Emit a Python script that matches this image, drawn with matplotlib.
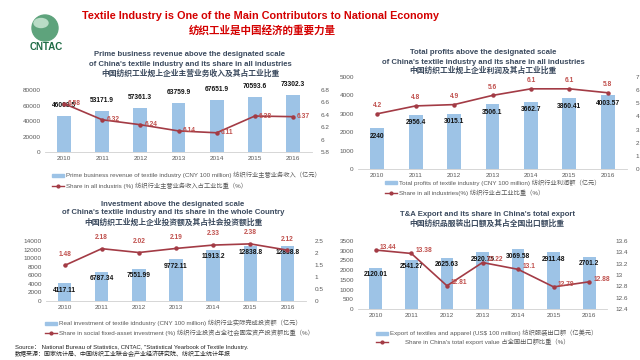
import numpy as np
import matplotlib
matplotlib.use("Agg")
import matplotlib.pyplot as plt
from matplotlib.patches import Ellipse, Rectangle
from matplotlib.lines import Line2D
from matplotlib.ticker import FuncFormatter

plt.rcParams['font.family'] = ['Liberation Sans', 'Noto Sans CJK SC', 'DejaVu Sans']

years = ['2010', '2011', '2012', '2013', '2014', '2015', '2016']

# prime business revenue (CNY 100 million) and share in all industries (%)
revenue = [46008.5, 53171.89, 57361.31, 63759.86, 67651.92, 70593.65, 73302.26]
revenue_share = [6.58, 6.32, 6.24, 6.14, 6.11, 6.38, 6.37]

# total profits (CNY 100 million) and share (%)
profits = [2240, 2956.4, 3015.1, 3506.1, 3662.7, 3860.41, 4003.57]
profits_share = [4.2, 4.8, 4.9, 5.6, 6.1, 6.1, 5.8]

# investment (CNY 100 million) and share in social fixed-asset investment (%)
invest = [4117.11, 6787.34, 7551.99, 9772.11, 11913.21, 12838.75, 12838.75]
invest_share = [1.48, 2.18, 2.02, 2.19, 2.33, 2.38, 2.12]

# T&A export (USD 100 million) and share in total export (%)
export = [2120.01, 2541.27, 2625.63, 2920.75, 3069.58, 2911.48, 2701.2]
export_share = [13.44, 13.38, 12.81, 13.22, 13.1, 12.79, 12.88]

BAR = '#9dc3e6'
LINE = '#a33b45'
LBL = '#c0504d'
TICK = '#595959'
TTL = '#3b4a5e'

W, H = 640, 360
fig = plt.figure(figsize=(6.4, 3.6), dpi=100)
fig.patch.set_facecolor('white')


def box(x0, x1, ytop, ybot):
    return [x0 / W, 1 - ybot / H, (x1 - x0) / W, (ybot - ytop) / H]


def fx(x):
    return x / W


def fy(y):
    return 1 - y / H


fmt = FuncFormatter(lambda v, p: '{:g}'.format(round(v, 3)))


def panel(rect, bars, line, ylim, yticks, rlim, rticks, bar_lbl, line_lbl):
    ax = fig.add_axes(rect)
    x = np.arange(len(years))
    ax.bar(x, bars, width=0.36, color=BAR, zorder=1)
    ax.set_xlim(-0.5, len(years) - 0.5)
    ax.set_ylim(*ylim)
    ax.set_yticks(yticks)
    ax.set_xticks(x)
    ax.set_xticklabels(years)
    for s in ['top', 'right', 'left']:
        ax.spines[s].set_visible(False)
    ax.spines['bottom'].set_color('#d0d0d0')
    ax.spines['bottom'].set_linewidth(0.6)
    ax.tick_params(length=0, labelsize=4.6, colors=TICK, pad=3)
    ax.yaxis.set_major_formatter(fmt)
    ax2 = ax.twinx()
    ax2.plot(x, line, color=LINE, lw=1.2, marker='o', ms=2.2, zorder=3)
    ax2.set_ylim(*rlim)
    ax2.set_yticks(rticks)
    ax2.yaxis.set_major_formatter(fmt)
    for s in ['top', 'right', 'left', 'bottom']:
        ax2.spines[s].set_visible(False)
    ax2.tick_params(length=0, labelsize=4.6, colors=TICK, pad=6)
    for i, v in enumerate(bars):
        dy, va = bar_lbl
        ax.annotate('{:g}'.format(v), (i, v), xytext=(0, dy), textcoords='offset points',
                    ha='center', va=va, fontsize=4.8, color='#111111', fontweight='bold')
    for i, v in enumerate(line):
        dx, dy, ha = line_lbl
        ax2.annotate('{:g}'.format(v), (i, v), xytext=(dx, dy), textcoords='offset points',
                     ha=ha, va='center', fontsize=4.8, color=LBL, fontweight='bold')
    return ax, ax2


def legend(x, y1, y2, t1, t2, xt2=None):
    fig.patches.append(Rectangle((fx(x), fy(y1) - 1.5 / H), 12 / W, 3 / H,
                                 transform=fig.transFigure, color=BAR))
    fig.add_artist(Line2D([fx(x), fx(x + 12)], [fy(y2), fy(y2)], transform=fig.transFigure,
                          color=LINE, lw=1.0))
    fig.add_artist(Line2D([fx(x + 6)], [fy(y2)], transform=fig.transFigure,
                          color=LINE, marker='o', ms=2.0))
    fig.text(fx(x + 14), fy(y1), t1, fontsize=4.5, color=TICK, va='center')
    fig.text(fx(xt2 if xt2 else x + 14), fy(y2), t2, fontsize=4.5, color=TICK, va='center')


# main title
fig.text(fx(260), fy(16), 'Textile Industry is One of the Main Contributors to National Economy',
         ha='center', va='center', fontsize=7.8, fontweight='bold', color='#d40000')
fig.text(fx(262), fy(30), '纺织工业是中国经济的重要力量', ha='center', va='center',
         fontsize=7.6, fontweight='bold', color='#d40000')

# logo
fig.patches.append(Ellipse((fx(45), fy(28)), 26 / W, 26 / H, transform=fig.transFigure,
                           color='#5ea37c'))
fig.patches.append(Ellipse((fx(41), fy(23)), 14 / W, 9 / H, transform=fig.transFigure,
                           color='#b9dcc6'))
fig.text(fx(46), fy(47), 'CNTAC', ha='center', va='center', fontsize=7, fontweight='bold',
         color='#1f6b45')

# panel 1
for t, y in [('Prime business revenue above the designated scale', 55),
             ("of China's textile industry and its share in all industries", 65),
             ('中国纺织工业规上企业主营业务收入及其占工业比重', 74)]:
    fig.text(fx(190), fy(y), t, ha='center', va='center', fontsize=5.6, fontweight='bold', color=TTL)
panel(box(45, 312, 90, 152), revenue, revenue_share, (0, 80000), range(0, 80001, 20000),
      (5.8, 6.8), [5.8, 6.0, 6.2, 6.4, 6.6, 6.8], (5, 'bottom'), (3, 0, 'left'))
legend(52, 175, 186, 'Prime business revenue of textile industry (CNY 100 million) 纺织行业主营业务收入（亿元）',
       'Share in all industris (%) 纺织行业主营业务收入占工业比重（%）')

# panel 2
for t, y in [('Total profits above the designated scale', 52),
             ("of China's textile industry and its share in all industries", 62),
             ('中国纺织工业规上企业利润及其占工业比重', 71)]:
    fig.text(fx(483), fy(y), t, ha='center', va='center', fontsize=5.6, fontweight='bold', color=TTL)
panel(box(358, 627, 77, 169), profits, profits_share, (0, 5000), range(0, 5001, 1000),
      (0, 7), range(0, 8), (-6, 'center'), (0, 6, 'center'))
legend(385, 183, 193, 'Total profits of textile industry (CNY 100 million) 纺织行业利润额（亿元）',
       'Share in all industries(%) 纺织行业占工业比重（%）')

# panel 3
for t, y in [('Investment above the designated scale', 204),
             ("of China's textile industry and its share in the whole Country", 213),
             ('中国纺织工业规上企业投资额及其占社会投资额比重', 223)]:
    fig.text(fx(173), fy(y), t, ha='center', va='center', fontsize=5.6, fontweight='bold', color=TTL)
panel(box(46, 306, 241, 301), invest, invest_share, (0, 14000), range(0, 14001, 2000),
      (0, 2.5), [0, 0.5, 1, 1.5, 2, 2.5], (-5, 'center'), (0, 8, 'center'))
legend(45, 323, 333, 'Real investment of textile idndustry (CNY 100 million) 纺织行业实际完成投资额（亿元）',
       'Share in social fixed-asset investment (%) 纺织行业投资占全社会固定资产投资额比重（%）')

# panel 4
for t, y in [("T&A Export and its share in China's total export", 215),
             ('中国纺织品服装出口额及其占全国出口额比重', 224)]:
    fig.text(fx(487), fy(y), t, ha='center', va='center', fontsize=5.6, fontweight='bold', color=TTL)
panel(box(358, 607, 241, 309), export, export_share, (0, 3500), range(0, 3501, 500),
      (12.4, 13.6), [12.4, 12.6, 12.8, 13.0, 13.2, 13.4, 13.6], (-5, 'center'), (3, 2, 'left'))
legend(376, 333, 342, 'Export of textiles and apparel (US$ 100 million) 纺织服装出口额（亿美元）',
       "Share in China's total export value 占全国出口额比重（%）", xt2=405)

# source
fig.text(fx(15), fy(347), 'Source： National Bureau of Statistics, CNTAC, "Statistical Yearbook of Textile Industry.',
         fontsize=4.3, color='#222222', va='center')
fig.text(fx(15), fy(354), '数据来源：国家统计局、中国纺织工业联合会产业经济研究院、纺织工业统计年报',
         fontsize=4.3, color='#222222', va='center')

fig.savefig('out.png', dpi=100, facecolor='white')
